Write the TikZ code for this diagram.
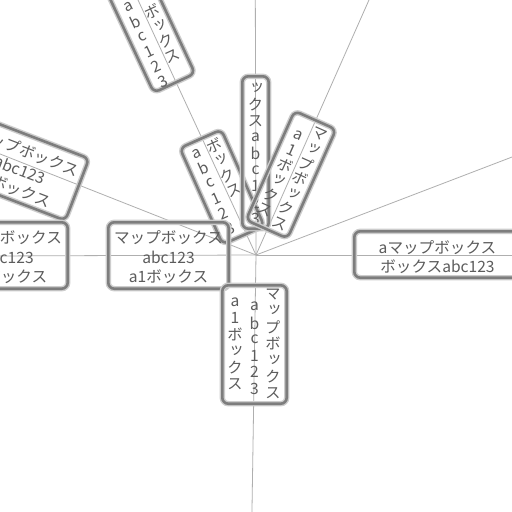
\documentclass[tikz,border=0pt]{standalone}
\usepackage{fontspec}
\setmainfont{Noto Sans CJK JP}
\newfontfamily\vfont[RawFeature=+vert]{Noto Sans CJK JP}
\newlength\cellw \setlength\cellw{16pt}
\newlength\cellh \setlength\cellh{16.4pt}
\newcommand\vcol[1]{\vbox{\offinterlineskip\vfont\foreach \ch in {#1}{\hbox to \cellw{\hss\vbox to \cellh{\vss\hbox{\ch}\vss}\hss}}}}
\definecolor{raycol}{RGB}{175,175,175}
\definecolor{boxcol}{RGB}{125,125,125}
\definecolor{halocol}{RGB}{205,205,205}
\definecolor{txtcol}{RGB}{92,92,92}
\tikzset{
  ray/.style={draw=raycol, line width=0.8pt},
  lbox/.style={draw=boxcol, line width=2.6pt, rounded corners=6pt, inner sep=0pt, outer sep=0pt,
    preaction={draw=halocol, line width=5.4pt}},
  htxt/.style={text=txtcol, inner sep=0pt, align=center, font=\fontsize{15.6}{19.5}\selectfont},
  vtxt/.style={text=txtcol, inner sep=0pt, font=\fontsize{15.6}{19.5}\selectfont},
}
\begin{document}
\begin{tikzpicture}[x=1pt, y=-1pt]
\useasboundingbox (0,0) rectangle (512,512);
\fill[white] (0,0) rectangle (512,512);
\clip (0,0) rectangle (512,512);
% rays
\coordinate (c) at (256,255);
\coordinate (eU) at (255.3,-10);
\coordinate (eUR) at (373.4,-10);
\coordinate (eRU) at (522,153.2);
\coordinate (eR) at (522,255);
\coordinate (eD) at (251.8,522);
\coordinate (eL) at (-10,256);
\coordinate (eLU) at (-10,150);
\coordinate (eUL) at (133.4,-10);
\foreach \e in {eU,eUR,eRU,eR,eD,eL,eLU,eUL} \draw[ray] (c) -- (\e);
% top-left vertical label
\begin{scope}[shift={(174.4,83.1)}, rotate=25, transform shape]
  \node[lbox, anchor=south, minimum width=45.4pt, minimum height=250pt] (bTL) at (0,0) {};
  \node[vtxt, anchor=south] (bTL1) at (10,-16.8) {\vcol{ボ,ッ,ク,ス}};
  \node[vtxt, anchor=south] (bTL2) at (-9.5,2.2) {\vcol{a,b,c,1,2,3}};
\end{scope}
% upper-left horizontal label
\begin{scope}[shift={(21,168)}, rotate=-21, transform shape]
  \node[lbox, minimum width=120.4pt, minimum height=66.4pt] (bUL) at (0,0) {};
  \node[htxt] (bUL1) at (0,2) {マップボックス\\abc123\\a1ボックス};
\end{scope}
% lower-left horizontal label
\node[lbox, minimum width=120.4pt, minimum height=66.4pt] (bLL) at (7.5,255.5) {};
\node[htxt] (bLL1) at (7.5,257.5) {マップボックス\\abc123\\a1ボックス};
% middle tilted label
\begin{scope}[shift={(222,187)}, rotate=24, transform shape]
  \node[lbox, minimum width=45.4pt, minimum height=105.4pt] (bM) at (0,0) {};
  \node[vtxt] (bM1) at (-9.5,0) {\vcol{a,b,c,1,2,3}};
  \node[vtxt, anchor=north] (bM2) at (9.5,-49.2) {\vcol{ボ,ッ,ク,ス}};
\end{scope}
% top centre vertical label
\node[lbox, minimum width=26.4pt, minimum height=152.4pt] (bTC) at (255.5,152.5) {};
\node[vtxt] (bTC1) at (255.5,153.5) {\vcol{ッ,ク,ス,a,b,c,1,2,3}};
% right tilted label
\begin{scope}[shift={(291,174.7)}, rotate=-24, transform shape]
  \node[lbox, minimum width=45.4pt, minimum height=119.4pt] (bTR) at (0,0) {};
  \node[vtxt] (bTR1) at (9.5,0) {\vcol{マ,ッ,プ,ボ,ッ,ク,ス}};
  \node[vtxt] (bTR2) at (-9.5,2) {\vcol{a,1,ボ,ッ,ク,ス}};
\end{scope}
% centre-left horizontal label
\node[lbox, minimum width=120.4pt, minimum height=66.4pt] (bCL) at (168.5,255.5) {};
\node[htxt] (bCL1) at (168.5,257.5) {マップボックス\\abc123\\a1ボックス};
% bottom vertical label
\node[lbox, minimum width=64.4pt, minimum height=118.4pt] (bB) at (254.5,344.5) {};
\node[vtxt] (bB1) at (273,343.5) {\vcol{マ,ッ,プ,ボ,ッ,ク,ス}};
\node[vtxt] (bB2) at (254.5,347.5) {\vcol{a,b,c,1,2,3}};
\node[vtxt] (bB3) at (235,343) {\vcol{a,1,ボ,ッ,ク,ス}};
% right horizontal label
\node[lbox, minimum width=166.4pt, minimum height=46.4pt] (bR) at (437.5,254.5) {};
\node[htxt] (bR1) at (437.5,257) {aマップボックス\\ボックスabc123};
\end{tikzpicture}
\end{document}
